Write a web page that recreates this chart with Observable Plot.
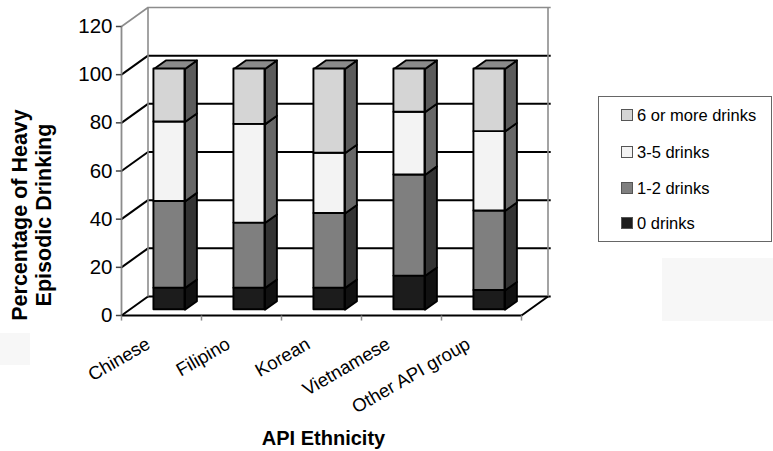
<!DOCTYPE html>
<html>
<head>
<meta charset="utf-8">
<script src="https://cdn.jsdelivr.net/npm/d3@7"></script>
<script src="https://cdn.jsdelivr.net/npm/@observablehq/plot@0.6"></script>
<style>
  html, body { margin: 0; padding: 0; background: #fff; overflow: hidden; }
  body { font-family: "Liberation Sans", Arial, sans-serif; }
  #chart { position: relative; width: 773px; height: 451px; overflow: hidden; background: #fff; }
  #chart svg { position: absolute; left: 0; top: 0; max-width: none; }
  .legend { position: absolute; left: 598px; top: 96px; width: 174px; height: 146px;
            box-sizing: border-box; border: 1px solid #666; background: #fff; }
  .legend .item { position: absolute; left: 22px; height: 18px; display: flex; align-items: center;
                  font-size: 16.5px; color: #000; white-space: nowrap; }
  .legend .sw { width: 10px; height: 10px; border: 1px solid #555; margin-right: 4px; flex: none; }
  .haze { position: absolute; background: #f7f7f7; }
</style>
</head>
<body>
<div id="chart"></div>
<script>
// Heavy episodic drinking by API ethnicity (percent of respondents)
const categories = ["Chinese", "Filipino", "Korean", "Vietnamese", "Other API group"];
const seriesNames = ["0 drinks", "1-2 drinks", "3-5 drinks", "6 or more drinks"];
const zeroDrinks = [9, 9, 9, 14, 8];
const oneTwoDrinks = [36, 27, 31, 42, 33];
const threeFiveDrinks = [33, 41, 25, 26, 33];
const sixPlusDrinks = [22, 23, 35, 18, 26];
const yTicks = [0, 20, 40, 60, 80, 100, 120];

const seriesValues = [zeroDrinks, oneTwoDrinks, threeFiveDrinks, sixPlusDrinks];
const frontFill = ["#1c1c1c", "#7f7f7f", "#f3f3f3", "#d5d5d5"];
const sideFill = ["#111111", "#333333", "#676767", "#5b5b5b"];
const topFill = "#8a8a8a";
const gridGray = "#8c8c8c";

// Pseudo-3D geometry in data units: wall depth and the bars' depth band
const DX = 26.5 / 80;          // depth offset along x (category units)
const DY = 19 / (289 / 120);   // depth offset along y (percent units)
const F0 = 0.3, F1 = 0.75;     // bar front / back as fraction of wall depth
const HW = 0.194;              // half bar width (category units)

// Stacked segments
const segs = [];
categories.forEach((c, i) => {
  let base = 0;
  seriesValues.forEach((vals, s) => {
    segs.push({cat: c, i, s, y1: base, y2: base + vals[i]});
    base += vals[i];
  });
});

// Side and top faces as closed polygons
const sidePts = [];
const topPts = [];
segs.forEach((d, k) => {
  const xr = d.i + HW + F0 * DX;
  const xl = d.i - HW + F0 * DX;
  const ox = (F1 - F0) * DX, oy = (F1 - F0) * DY;
  const b = d.y1 + F0 * DY, t = d.y2 + F0 * DY;
  const f = sideFill[d.s];
  sidePts.push(
    {id: k, x: xr, y: b, fill: f},
    {id: k, x: xr, y: t, fill: f},
    {id: k, x: xr + ox, y: t + oy, fill: f},
    {id: k, x: xr + ox, y: b + oy, fill: f}
  );
  if (d.s === seriesValues.length - 1) {
    topPts.push(
      {id: k, x: xl, y: t},
      {id: k, x: xr, y: t},
      {id: k, x: xr + ox, y: t + oy},
      {id: k, x: xl + ox, y: t + oy}
    );
  }
});

const boundaries = categories.map((c, i) => i - 0.5).concat([categories.length - 0.5]);
const xL = -0.5, xR = categories.length - 0.5;
const inner = yTicks.filter(v => v < 120);
const outer = yTicks.filter(v => v === 120);

const plot = Plot.plot({
  width: 773,
  height: 451,
  margin: 0,
  x: {type: "linear", domain: [xL, xR], range: [121, 521], axis: null},
  y: {type: "linear", domain: [0, 120], range: [315, 26], axis: null},
  color: {type: "identity"},
  style: {fontFamily: "'Liberation Sans', Arial, sans-serif", background: "transparent", overflow: "visible"},
  marks: [
    // back wall gridlines
    Plot.ruleY(inner, {y: d => d + DY, x1: () => xL + DX, x2: () => xR + DX + 0.04, stroke: "#000", strokeWidth: 2}),
    Plot.ruleY(outer, {y: d => d + DY, x1: () => xL + DX, x2: () => xR + DX + 0.04, stroke: gridGray, strokeWidth: 1.6}),
    // side wall gridlines
    Plot.link(inner, {x1: () => xL, y1: d => d, x2: () => xL + DX, y2: d => d + DY, stroke: "#000", strokeWidth: 2}),
    Plot.link(outer, {x1: () => xL, y1: d => d, x2: () => xL + DX, y2: d => d + DY, stroke: gridGray, strokeWidth: 1.6}),
    // wall edges
    Plot.link([xL + DX, xR + DX], {x1: d => d, x2: d => d, y1: () => DY, y2: () => 120 + DY, stroke: gridGray, strokeWidth: 1.6}),
    Plot.link([xL], {x1: d => d, x2: d => d, y1: () => 0, y2: () => 120, stroke: gridGray, strokeWidth: 1.8}),
    // floor
    Plot.link([0], {x1: () => xL, x2: () => xR, y1: () => 0, y2: () => 0, stroke: "#000", strokeWidth: 2}),
    Plot.link([0], {x1: () => xR, x2: () => xR + DX, y1: () => 0, y2: () => DY, stroke: "#000", strokeWidth: 2}),
    // axis ticks
    Plot.link(yTicks, {x1: () => xL - 0.07, x2: () => xL, y1: d => d, y2: d => d, stroke: "#444", strokeWidth: 1.5}),
    Plot.link(boundaries, {x1: d => d, x2: d => d, y1: () => 0, y2: () => -2.1, stroke: gridGray, strokeWidth: 1.5}),
    // bars: side faces, top faces, front faces
    Plot.line(sidePts, {x: "x", y: "y", z: "id", fill: "fill", stroke: "#000", strokeWidth: 1.9, curve: "linear-closed", strokeLinejoin: "round"}),
    Plot.line(topPts, {x: "x", y: "y", z: "id", fill: topFill, stroke: "#000", strokeWidth: 1.9, curve: "linear-closed", strokeLinejoin: "round"}),
    Plot.rect(segs, {
      x1: d => d.i - HW + F0 * DX,
      x2: d => d.i + HW + F0 * DX,
      y1: d => d.y1 + F0 * DY,
      y2: d => d.y2 + F0 * DY,
      fill: d => frontFill[d.s],
      stroke: "#000",
      strokeWidth: 1.9,
      strokeLinejoin: "round"
    }),
    // value axis labels
    Plot.text(yTicks, {x: () => xL, y: d => d, text: d => String(d), textAnchor: "end", dx: -9, fontSize: 20.5, fill: "#000"}),
    // category labels
    Plot.text(categories, {x: (d, i) => i, y: () => 0, text: d => d, textAnchor: "end", lineAnchor: "bottom",
                           rotate: -30, dx: -10, dy: 32, fontSize: 18.5, fill: "#000"}),
    // axis titles
    Plot.text(["API Ethnicity"], {frameAnchor: "bottom-left", text: d => d, dx: 323, dy: -7, textAnchor: "middle",
                                  lineAnchor: "bottom", fontSize: 20, fontWeight: "bold", fill: "#000"}),
    Plot.text(["Percentage of Heavy\nEpisodic Drinking"], {frameAnchor: "left", text: d => d, dx: 31, dy: -11, rotate: -90,
                                  textAnchor: "middle", lineAnchor: "middle", lineHeight: 1.08, fontSize: 21.5,
                                  fontWeight: "bold", fill: "#000"})
  ]
});

const chart = document.getElementById("chart");
chart.appendChild(plot);

// faint background patches
[[0, 333, 30, 32], [662, 258, 111, 63]].forEach(([l, t, w, h]) => {
  const el = document.createElement("div");
  el.className = "haze";
  Object.assign(el.style, {left: l + "px", top: t + "px", width: w + "px", height: h + "px"});
  chart.appendChild(el);
});

// legend, top entry first
const legend = document.createElement("div");
legend.className = "legend";
const itemTops = [9, 46, 82, 117];
seriesNames.slice().reverse().forEach((name, k) => {
  const s = seriesNames.length - 1 - k;
  const item = document.createElement("div");
  item.className = "item";
  item.style.top = itemTops[k] + "px";
  const sw = document.createElement("span");
  sw.className = "sw";
  sw.style.background = frontFill[s];
  const label = document.createElement("span");
  label.textContent = name;
  item.appendChild(sw);
  item.appendChild(label);
  legend.appendChild(item);
});
chart.appendChild(legend);
</script>
</body>
</html>
